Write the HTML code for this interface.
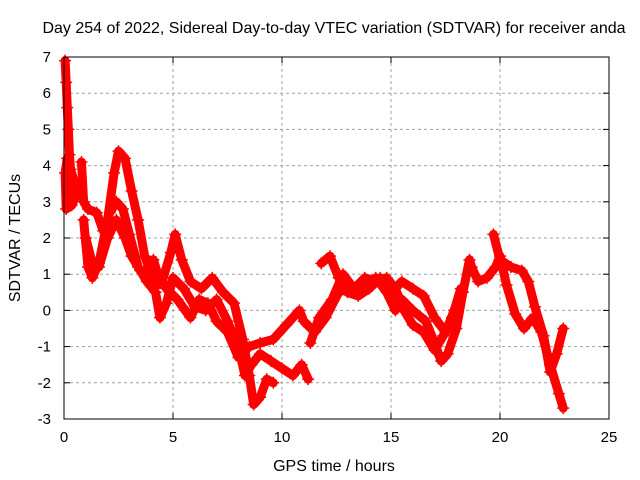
<!DOCTYPE html>
<html><head><meta charset="utf-8"><style>
body{margin:0;background:#fff}
svg{display:block;font-family:"Liberation Sans",sans-serif}
</style></head><body>
<svg id="chart" width="640" height="480">
<rect width="640" height="480" fill="#fff"/>
<text x="334" y="33" font-size="16" text-anchor="middle">Day 254 of 2022, Sidereal Day-to-day VTEC variation (SDTVAR) for receiver anda</text>
<text transform="translate(20,238) rotate(-90)" font-size="16" text-anchor="middle">SDTVAR / TECUs</text>
<text x="334" y="471" font-size="16" text-anchor="middle">GPS time / hours</text>
<g id="grid"></g><g id="ticks"></g><g id="marks"></g>
<rect x="64" y="57" width="545" height="362" fill="none" stroke="#000" stroke-width="1"/>
</svg>
<script>
const xTicks=[0,5,10,15,20,25];
const yTicks=[-3,-2,-1,0,1,2,3,4,5,6,7];
const track0=[[0.05,6.9],[0.1,6.3],[0.15,5.6],[0.2,5.0],[0.25,4.3],[0.3,3.9],[0.45,3.6],[0.5,3.1],[0.35,2.9],[0.1,2.8],[0.05,3.8],[0.15,4.2]];
const track1=[[0.9,2.5],[1.1,1.2],[1.3,0.9],[1.6,1.3],[2.0,2.5],[2.3,3.8],[2.5,4.4],[2.8,4.2],[3.1,3.3],[3.4,2.5],[3.7,1.5],[4.0,1.0],[4.3,0.7],[4.5,0.8],[4.9,1.6],[5.1,2.1],[5.4,1.4],[5.8,0.8],[6.3,0.6],[6.8,0.9],[7.3,0.5],[7.8,0.2],[8.2,-0.8],[8.5,-1.8],[8.7,-2.6],[9.0,-2.4],[9.3,-1.9],[9.6,-2.0]];
const track2=[[0.8,4.1],[0.9,3.0],[1.1,2.8],[1.5,2.7],[1.8,2.2],[2.1,2.7],[2.4,3.0],[2.7,2.8],[3.0,2.1],[3.4,1.2],[3.8,0.8],[4.2,0.5],[4.4,-0.2],[4.7,0.2],[5.0,0.9],[5.5,0.6],[6.0,0.1],[6.5,0.0],[7.0,0.3],[7.5,-0.3],[8.0,-1.0],[8.3,-1.8],[8.6,-1.5],[9.0,-1.2],[9.5,-1.4],[10.0,-1.6],[10.5,-1.8],[10.9,-1.5],[11.2,-1.9]];
const track3=[[1.0,2.0],[1.3,1.3],[1.6,1.2],[2.0,2.0],[2.4,2.5],[2.8,2.0],[3.1,1.5],[3.5,1.1],[3.8,0.9],[4.1,1.4],[4.3,1.0],[4.7,0.6],[5.2,0.3],[5.8,-0.2],[6.2,0.3],[6.6,0.2],[7.0,-0.3],[7.5,-0.6],[8.0,-1.3],[8.5,-1.0],[9.0,-0.9],[9.6,-0.8],[10.2,-0.4],[10.8,0.0],[11.0,-0.3],[11.5,-0.6],[12.0,-0.2],[12.6,0.5],[13.0,0.6],[13.7,0.7],[14.3,0.9],[14.8,0.5],[15.2,0.0],[15.5,0.3],[16.0,0.0],[16.6,-0.3],[17.0,-0.9],[17.3,-1.4],[17.6,-1.2],[18.0,-0.5],[18.3,0.5],[18.6,1.4],[18.7,1.2],[19.0,0.8],[19.4,0.9],[19.8,1.2],[20.0,1.5],[20.3,0.7],[20.7,-0.1],[21.1,-0.5],[21.5,-0.2],[21.9,-0.6],[22.3,-1.5],[22.7,-2.3],[22.9,-2.7]];
const track4=[[11.3,-0.9],[11.7,-0.2],[12.3,0.3],[12.8,1.0],[13.3,0.6],[13.8,0.9],[14.3,0.8],[14.8,0.9],[15.2,0.6],[15.6,0.0],[16.0,-0.4],[16.5,-0.6],[17.0,-1.1],[17.4,-0.7],[17.8,-0.2],[18.2,0.6]];
const track5=[[11.8,1.3],[12.2,1.5],[12.6,0.9],[13.0,0.5],[13.5,0.4],[14.0,0.6],[14.5,0.9],[15.0,0.5],[15.5,0.8],[16.0,0.6],[16.5,0.4],[17.0,-0.2],[17.5,-0.6],[17.9,0.0]];
const track6=[[19.7,2.1],[20.0,1.4],[20.5,1.2],[21.0,1.1],[21.3,0.8],[21.6,0.1],[22.0,-0.7],[22.3,-1.7],[22.6,-1.2],[22.9,-0.5]];
const tracks=[track0,track1,track2,track3,track4,track5,track6];
const NS='http://www.w3.org/2000/svg';
const X=h=>64+h*21.8, Y=v=>57+(7-v)*36.2;
function mk(tag,attrs,parent){const e=document.createElementNS(NS,tag);for(const k in attrs)e.setAttribute(k,attrs[k]);parent.appendChild(e);return e;}
const grid=document.getElementById('grid'),ticks=document.getElementById('ticks'),marks=document.getElementById('marks');
xTicks.forEach(t=>{const x=X(t);
 if(t>0&&t<25){const g=mk('line',{x1:x,y1:57,x2:x,y2:419,stroke:'#a0a0a0','stroke-dasharray':'3,3'},grid);
 
 }
 mk('line',{x1:x,y1:419,x2:x,y2:413,stroke:'#000'},ticks);mk('line',{x1:x,y1:57,x2:x,y2:63,stroke:'#000'},ticks);
 const l=mk('text',{x:x,y:442,'font-size':'15','text-anchor':'middle'},ticks);l.textContent=t;
 
 });
yTicks.forEach(t=>{const y=Y(t);
 if(t>-3&&t<7){const g=mk('line',{x1:64,y1:y,x2:609,y2:y,stroke:'#a0a0a0','stroke-dasharray':'3,3'},grid);
 
 }
 mk('line',{x1:64,y1:y,x2:70,y2:y,stroke:'#000'},ticks);mk('line',{x1:609,y1:y,x2:603,y2:y,stroke:'#000'},ticks);
 const l=mk('text',{x:51,y:y+5,'font-size':'15','text-anchor':'end'},ticks);l.textContent=t;
 
 });
tracks.forEach((tr,i)=>{
 const p=mk('polyline',{points:tr.map(d=>X(d[0])+','+Y(d[1])).join(' '),fill:'none',stroke:'#ff0000','stroke-width':'9','stroke-linejoin':'round','stroke-linecap':'round'},marks);
 
 
 tr.forEach(d=>{const x=X(d[0]),y=Y(d[1]);
  const m=mk('path',{d:`M${x-6},${y}H${x+6}M${x},${y-6}V${y+6}`,stroke:'#ff0000','stroke-width':'1.5'},marks);
  
  });
});
</script>
</body></html>
